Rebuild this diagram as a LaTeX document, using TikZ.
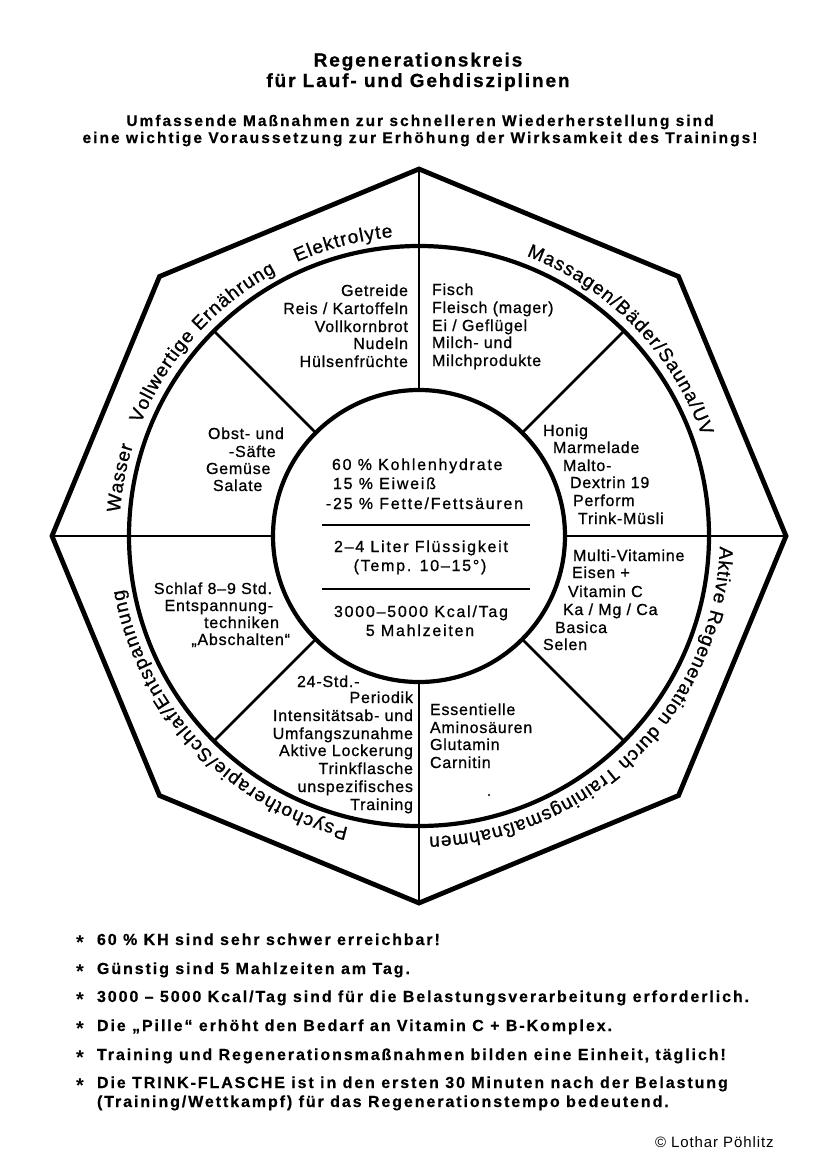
\documentclass[tikz,border=0pt]{standalone}
\usepackage{fontspec}
\setmainfont{Liberation Sans}
\newfontfamily\secfont{Liberation Sans}[LetterSpace=5,FakeBold=0.8]
\newfontfamily\cenfont{Liberation Sans}[LetterSpace=11,FakeBold=0.8]
\newfontfamily\ringfont{Liberation Sans}[FakeBold=1]
\newfontfamily\titfont{Liberation Sans Bold}[LetterSpace=10,FakeBold=0.8]
\newfontfamily\subfont{Liberation Sans Bold}[LetterSpace=13,FakeBold=0.5]
\newfontfamily\bulfont{Liberation Sans Bold}[LetterSpace=12,FakeBold=0.5]
\newfontfamily\starfont{Liberation Sans Bold}
\newfontfamily\cpfont{Liberation Sans}[LetterSpace=6]
\usetikzlibrary{decorations.text}
\begin{document}
\begin{tikzpicture}[x=1pt,y=1pt,
  every node/.style={inner sep=0pt,outer sep=0pt},
  sectxt/.style={font=\secfont\fontsize{16}{18}\selectfont},
  centxt/.style={font=\cenfont\fontsize{16}{18}\selectfont},
  titletxt/.style={font=\titfont\fontsize{19}{21}\selectfont},
  subtxt/.style={font=\subfont\fontsize{15.5}{16}\selectfont},
  bultxt/.style={font=\bulfont\fontsize{16}{18}\selectfont},
  startxt/.style={font=\starfont\fontsize{20}{20}\selectfont},
  cptxt/.style={font=\cpfont\fontsize{15}{18}\selectfont},
  heavy/.style={line width=4.8pt, line join=miter},
  ringline/.style={line width=4.2pt},
  spoke/.style={line width=2.7pt},
  divider/.style={line width=2.5pt},
  ringtext/.style={decorate, decoration={text along path, text align=fit to path,
      text={|\ringfont\fontsize{19}{20}\selectfont|#1}}},
]
\fill[white] (0,0) rectangle (830,-1165);
\useasboundingbox (0,0) rectangle (830,-1165);

% ---------- title ----------
\node[titletxt, anchor=base] (t1) at (418,-66.5) {Regenerationskreis};
\node[titletxt, anchor=base] (t2) at (418,-87) {für Lauf- und Gehdisziplinen};
\node[subtxt, anchor=base] (u1) at (420,-126) {Umfassende Maßnahmen zur schnelleren Wiederherstellung sind};
\node[subtxt, anchor=base] (u2) at (420,-143) {eine wichtige Voraussetzung zur Erhöhung der Wirksamkeit des Trainings!};

% ---------- geometry ----------
\coordinate (C) at (419,-536);
\foreach \a [count=\i] in {90,45,0,-45,-90,-135,180,135}
  \path (C) ++(\a:367) coordinate (o\i);
% spokes
\foreach \a/\i in {90/1,0/3,-90/5,180/7}
  \draw[spoke] (o\i) -- ([shift={(\a:146)}]C);
\foreach \a in {45,135,225,315}
  \draw[spoke] ([shift={(\a:146)}]C) -- ([shift={(\a:290)}]C);
% circles and octagon
\draw[ringline] (C) circle[radius=290];
\draw[ringline] (C) circle[radius=146];
\draw[heavy] (o1) -- (o2) -- (o3) -- (o4) -- (o5) -- (o6) -- (o7) -- (o8) -- cycle;

% ---------- ring texts ----------
\path[ringtext={Wasser}] ([shift={(175.5:300)}]C) arc[start angle=175.5, end angle=162.5, radius=300];
\path[ringtext={Vollwertige Ernährung}] ([shift={(158:300)}]C) arc[start angle=158, end angle=118.5, radius=300];
\path[ringtext={Elektrolyte}] ([shift={(114:300)}]C) arc[start angle=114, end angle=95, radius=300];
\path[ringtext={Massagen/Bäder/Sauna/UV}] ([shift={(69:300)}]C) arc[start angle=69, end angle=19.5, radius=300];
\path[ringtext={Aktive Regeneration durch Trainingsmaßnahmen}] ([shift={(-2:301)}]C) arc[start angle=-2, end angle=-88, radius=301];
\path[ringtext={Psychotherapie/Schlaf/Entspannung}] ([shift={(256.4:300)}]C) arc[start angle=256.4, end angle=190.3, radius=300];

% ---------- sector: upper left top ----------
\node[sectxt, anchor=base east] (a1) at (408,-296) {Getreide};
\node[sectxt, anchor=base east] (a2) at (408,-314) {Reis / Kartoffeln};
\node[sectxt, anchor=base east] (a3) at (408,-332) {Vollkornbrot};
\node[sectxt, anchor=base east] (a4) at (408,-349) {Nudeln};
\node[sectxt, anchor=base east] (a5) at (408,-367) {Hülsenfrüchte};
% upper right top
\node[sectxt, anchor=base west] (b1) at (432,-295) {Fisch};
\node[sectxt, anchor=base west] (b2) at (432,-313) {Fleisch (mager)};
\node[sectxt, anchor=base west] (b3) at (432,-331) {Ei / Geflügel};
\node[sectxt, anchor=base west] (b4) at (432,-348) {Milch- und};
\node[sectxt, anchor=base west] (b5) at (432,-366) {Milchprodukte};
% upper right bottom
\node[sectxt, anchor=base west] (c1) at (543,-436) {Honig};
\node[sectxt, anchor=base west] (c2) at (553,-453) {Marmelade};
\node[sectxt, anchor=base west] (c3) at (563,-471) {Malto-};
\node[sectxt, anchor=base west] (c4) at (570,-488) {Dextrin 19};
\node[sectxt, anchor=base west] (c5) at (573,-506) {Perform};
\node[sectxt, anchor=base west] (c6) at (578,-524) {Trink-Müsli};
% upper left bottom
\node[sectxt, anchor=base west] (d1) at (208,-439) {Obst- und};
\node[sectxt, anchor=base west] (d2) at (229,-457) {-Säfte};
\node[sectxt, anchor=base west] (d3) at (206,-474) {Gemüse};
\node[sectxt, anchor=base west] (d4) at (213,-491) {Salate};
% lower left top
\node[sectxt, anchor=base east] (e1) at (272,-594) {Schlaf 8–9 Std.};
\node[sectxt, anchor=base east] (e2) at (273,-611) {Entspannung-};
\node[sectxt, anchor=base east] (e3) at (279,-628) {techniken};
\node[sectxt, anchor=base east] (e4) at (290,-645) {„Abschalten“};
% lower left bottom
\node[sectxt, anchor=base west] (f1) at (297,-687) {24-Std.-};
\node[sectxt, anchor=base east] (f2) at (413,-703) {Periodik};
\node[sectxt, anchor=base east] (f3) at (413,-721) {Intensitätsab- und};
\node[sectxt, anchor=base east] (f4) at (413,-739) {Umfangszunahme};
\node[sectxt, anchor=base east] (f5) at (413,-756) {Aktive Lockerung};
\node[sectxt, anchor=base east] (f6) at (413,-774) {Trinkflasche};
\node[sectxt, anchor=base east] (f7) at (413,-792) {unspezifisches};
\node[sectxt, anchor=base east] (f8) at (413,-810) {Training};
% lower right top
\node[sectxt, anchor=base west] (g1) at (573,-561) {Multi-Vitamine};
\node[sectxt, anchor=base west] (g2) at (572,-578) {Eisen +};
\node[sectxt, anchor=base west] (g3) at (568,-597) {Vitamin C};
\node[sectxt, anchor=base west] (g4) at (563,-615) {Ka / Mg / Ca};
\node[sectxt, anchor=base west] (g5) at (555,-633) {Basica};
\node[sectxt, anchor=base west] (g6) at (543,-650) {Selen};
% lower right bottom
\node[sectxt, anchor=base west] (h1) at (430,-715) {Essentielle};
\node[sectxt, anchor=base west] (h2) at (430,-733) {Aminosäuren};
\node[sectxt, anchor=base west] (h3) at (430,-750) {Glutamin};
\node[sectxt, anchor=base west] (h4) at (430,-768) {Carnitin};
\fill (489,-795) circle[radius=1.2];

% ---------- centre ----------
\node[centxt, anchor=base west] (m1) at (332,-470) {60 \% Kohlenhydrate};
\node[centxt, anchor=base west] (m2) at (333,-489) {15 \% Eiweiß};
\node[centxt, anchor=base west] (m3) at (326,-509) {-25 \% Fette/Fettsäuren};
\coordinate (l1a) at (322,-525); \coordinate (l1b) at (530,-525);
\draw[divider] (l1a) -- (l1b);
\node[centxt, anchor=base] (m4) at (421,-552) {2–4 Liter Flüssigkeit};
\node[centxt, anchor=base] (m5) at (420,-571) {(Temp. 10–15°)};
\coordinate (l2a) at (322,-589); \coordinate (l2b) at (530,-589);
\draw[divider] (l2a) -- (l2b);
\node[centxt, anchor=base] (m6) at (421,-617) {3000–5000 Kcal/Tag};
\node[centxt, anchor=base] (m7) at (420,-636) {5 Mahlzeiten};

% ---------- bullets ----------
\foreach \y/\k in {945/1,974/2,1002/3,1031/4,1060/5,1088/6}
  \node[startxt, anchor=base] (s\k) at (80,-\y) {\raisebox{-4pt}{*}};
\node[bultxt, anchor=base west] (n1) at (97,-945) {60 \% KH sind sehr schwer erreichbar!};
\node[bultxt, anchor=base west] (n2) at (97,-974) {Günstig sind 5 Mahlzeiten am Tag.};
\node[bultxt, anchor=base west] (n3) at (97,-1002) {3000 – 5000 Kcal/Tag sind für die Belastungsverarbeitung erforderlich.};
\node[bultxt, anchor=base west] (n4) at (97,-1031) {Die „Pille“ erhöht den Bedarf an Vitamin C + B-Komplex.};
\node[bultxt, anchor=base west] (n5) at (97,-1060) {Training und Regenerationsmaßnahmen bilden eine Einheit, täglich!};
\node[bultxt, anchor=base west] (n6) at (97,-1088) {Die TRINK-FLASCHE ist in den ersten 30 Minuten nach der Belastung};
\node[bultxt, anchor=base west] (n7) at (97,-1107) {(Training/Wettkampf) für das Regenerationstempo bedeutend.};

\node[cptxt, anchor=base west] (cp) at (655,-1147) {© Lothar Pöhlitz};
\end{tikzpicture}
\end{document}
